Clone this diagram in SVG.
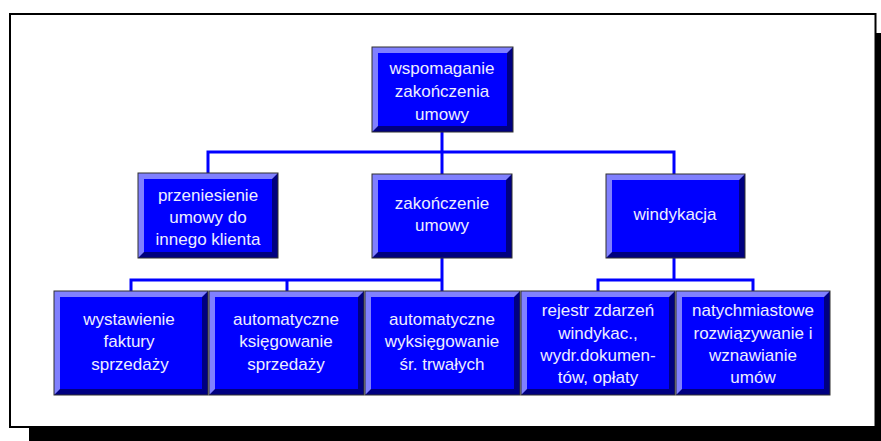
<svg xmlns="http://www.w3.org/2000/svg" width="881" height="441" viewBox="0 0 881 441">
<style>
.lt{fill:#8080ff}
.dk{fill:#000080}
.fc{fill:#0000ff}
.ol{fill:none;stroke:#303030;stroke-width:1}
.tx{font-family:"Liberation Sans",Arial,sans-serif;font-size:17px;fill:#eeeeff;text-anchor:middle}
.cn{fill:none;stroke:#0000ff;stroke-width:3;stroke-linejoin:miter}
</style>
<rect x="0" y="0" width="881" height="441" fill="#ffffff"/>
<rect x="29" y="33" width="852" height="408" fill="#000000"/>
<rect x="10" y="14" width="865.5" height="413" fill="#ffffff" stroke="#000000" stroke-width="2"/>
<g id="connectors">
<path class="cn" d="M442 132 V174"/>
<path class="cn" d="M208 174 V152 H674 V174"/>
<path class="cn" d="M442 258 V291"/>
<path class="cn" d="M131 291 V280 H442"/>
<path class="cn" d="M287 280 V291"/>
<path class="cn" d="M674 258 V280"/>
<path class="cn" d="M598 291 V280 H753 V291"/>
</g>
<g id="n_top">
<rect class="dk" x="372" y="47" width="141" height="85"/>
<polygon class="lt" points="372,47 513,47 507,53 378,53 378,126 372,132"/>
<rect class="fc" x="378" y="53" width="129" height="73"/>
<rect class="ol" x="372" y="47" width="141" height="85"/>
<text class="tx" x="442" y="74">wspomaganie</text>
<text class="tx" x="442" y="97">zakończenia</text>
<text class="tx" x="442" y="120">umowy</text>
</g>
<g id="n_przen">
<rect class="dk" x="138" y="173" width="140" height="85"/>
<polygon class="lt" points="138,173 278,173 272,179 144,179 144,252 138,258"/>
<rect class="fc" x="144" y="179" width="128" height="73"/>
<rect class="ol" x="138" y="173" width="140" height="85"/>
<text class="tx" x="208" y="201">przeniesienie</text>
<text class="tx" x="208" y="223">umowy do</text>
<text class="tx" x="208" y="245">innego klienta</text>
</g>
<g id="n_zak">
<rect class="dk" x="372" y="174" width="140" height="84"/>
<polygon class="lt" points="372,174 512,174 506,180 378,180 378,252 372,258"/>
<rect class="fc" x="378" y="180" width="128" height="72"/>
<rect class="ol" x="372" y="174" width="140" height="84"/>
<text class="tx" x="442" y="209">zakończenie</text>
<text class="tx" x="442" y="231">umowy</text>
</g>
<g id="n_wind">
<rect class="dk" x="606" y="174" width="139" height="84"/>
<polygon class="lt" points="606,174 745,174 739,180 612,180 612,252 606,258"/>
<rect class="fc" x="612" y="180" width="127" height="72"/>
<rect class="ol" x="606" y="174" width="139" height="84"/>
<text class="tx" x="675" y="220">windykacja</text>
</g>
<g id="n_wyst">
<rect class="dk" x="54" y="291" width="154" height="104"/>
<polygon class="lt" points="54,291 208,291 202,297 60,297 60,389 54,395"/>
<rect class="fc" x="60" y="297" width="142" height="92"/>
<rect class="ol" x="54" y="291" width="154" height="104"/>
<text class="tx" x="129" y="325">wystawienie</text>
<text class="tx" x="129" y="347">faktury</text>
<text class="tx" x="130" y="370">sprzedaży</text>
</g>
<g id="n_ksieg">
<rect class="dk" x="209" y="291" width="155" height="104"/>
<polygon class="lt" points="209,291 364,291 358,297 215,297 215,389 209,395"/>
<rect class="fc" x="215" y="297" width="143" height="92"/>
<rect class="ol" x="209" y="291" width="155" height="104"/>
<text class="tx" x="286" y="325">automatyczne</text>
<text class="tx" x="286" y="347">księgowanie</text>
<text class="tx" x="286" y="370">sprzedaży</text>
</g>
<g id="n_wyks">
<rect class="dk" x="365" y="291" width="155" height="104"/>
<polygon class="lt" points="365,291 520,291 514,297 371,297 371,389 365,395"/>
<rect class="fc" x="371" y="297" width="143" height="92"/>
<rect class="ol" x="365" y="291" width="155" height="104"/>
<text class="tx" x="442" y="325">automatyczne</text>
<text class="tx" x="442" y="347">wyksięgowanie</text>
<text class="tx" x="442" y="370">śr. trwałych</text>
</g>
<g id="n_rej">
<rect class="dk" x="521" y="291" width="154" height="104"/>
<polygon class="lt" points="521,291 675,291 669,297 527,297 527,389 521,395"/>
<rect class="fc" x="527" y="297" width="142" height="92"/>
<rect class="ol" x="521" y="291" width="154" height="104"/>
<text class="tx" x="598" y="316">rejestr zdarzeń</text>
<text class="tx" x="598" y="339">windykac.,</text>
<text class="tx" x="598" y="361">wydr.dokumen-</text>
<text class="tx" x="598" y="383">tów, opłaty</text>
</g>
<g id="n_natych">
<rect class="dk" x="676" y="291" width="154" height="104"/>
<polygon class="lt" points="676,291 830,291 824,297 682,297 682,389 676,395"/>
<rect class="fc" x="682" y="297" width="142" height="92"/>
<rect class="ol" x="676" y="291" width="154" height="104"/>
<text class="tx" x="753" y="316">natychmiastowe</text>
<text class="tx" x="753" y="339">rozwiązywanie i</text>
<text class="tx" x="753" y="361">wznawianie</text>
<text class="tx" x="753" y="383">umów</text>
</g>
</svg>
